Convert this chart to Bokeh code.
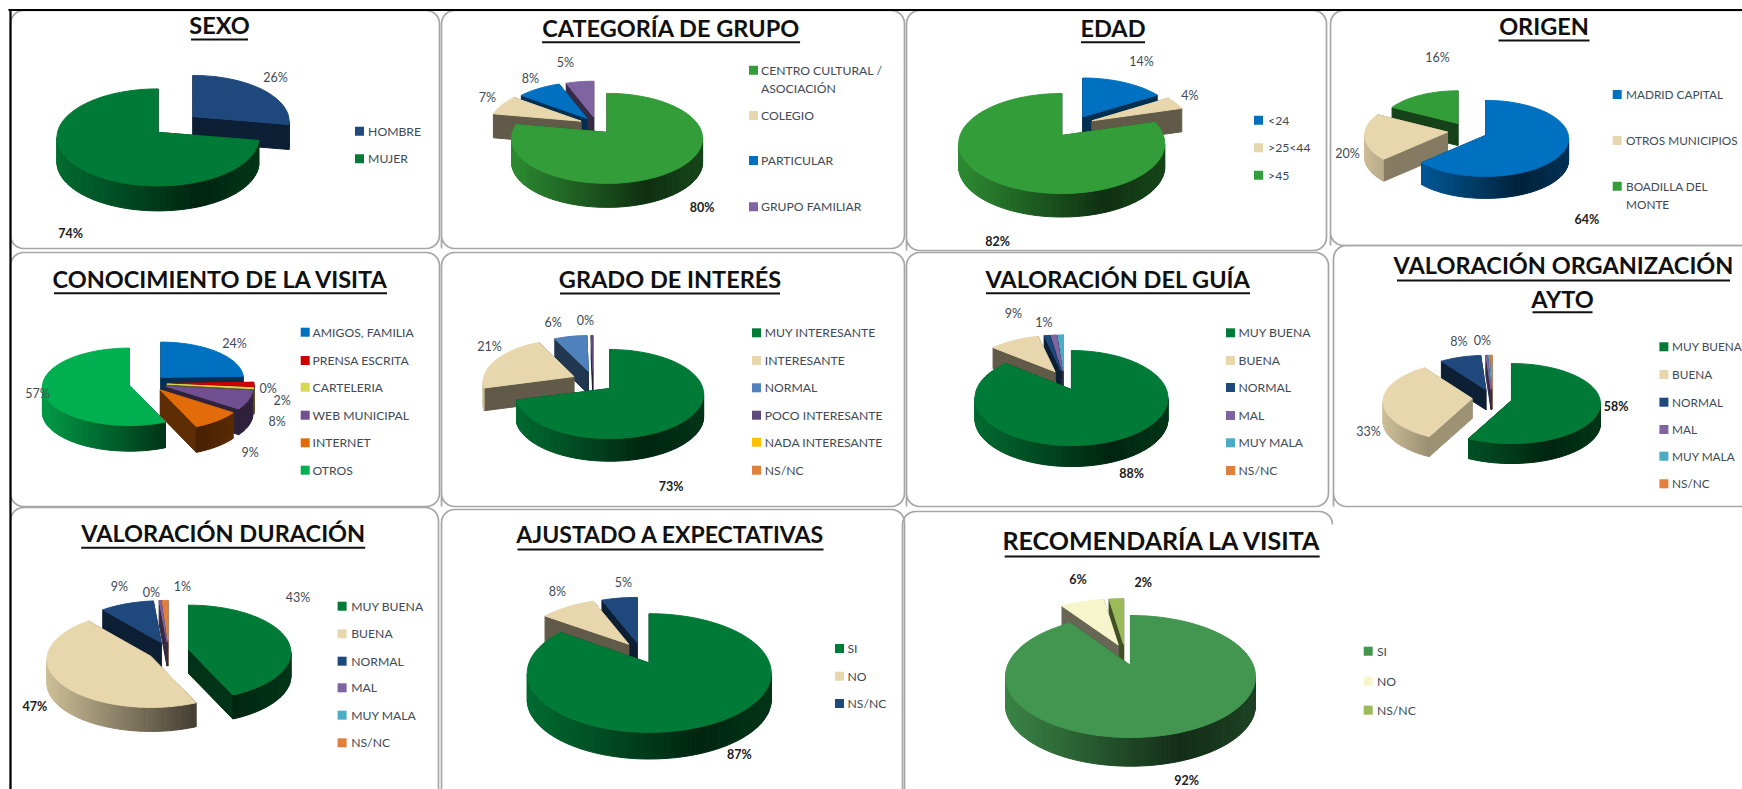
import math
from bokeh.plotting import figure
from bokeh.models import Range1d
from bokeh.core.properties import value
from bokeh.embed import file_html
from bokeh.resources import INLINE

# ---------- data ----------
SEXO_CATS = ["HOMBRE", "MUJER"]
SEXO_VALS = [26, 74]
GRUPO_CATS = ["CENTRO CULTURAL /\nASOCIACIÓN", "COLEGIO", "PARTICULAR", "GRUPO FAMILIAR"]
GRUPO_VALS = [80, 7, 8, 5]
EDAD_CATS = ["<24", ">25<44", ">45"]
EDAD_VALS = [14, 4, 82]
ORIGEN_CATS = ["MADRID CAPITAL", "OTROS MUNICIPIOS", "BOADILLA DEL\nMONTE"]
ORIGEN_VALS = [64, 20, 16]
CONOC_CATS = ["AMIGOS, FAMILIA", "PRENSA ESCRITA", "CARTELERIA", "WEB MUNICIPAL", "INTERNET", "OTROS"]
CONOC_VALS = [24, 2, 0.4, 8, 9, 57]
INTERES_CATS = ["MUY INTERESANTE", "INTERESANTE", "NORMAL", "POCO INTERESANTE", "NADA INTERESANTE", "NS/NC"]
INTERES_VALS = [73, 21, 6, 0.3, 0, 0]
VALORA_CATS = ["MUY BUENA", "BUENA", "NORMAL", "MAL", "MUY MALA", "NS/NC"]
GUIA_VALS = [88, 9, 1, 1, 1, 0]
ORGAN_VALS = [58, 33, 8, 0.3, 0.3, 0.4]
DURAC_VALS = [43, 47, 9, 0.3, 0, 1]
AJUST_CATS = ["SI", "NO", "NS/NC"]
AJUST_VALS = [87, 8, 5]
RECOM_CATS = ["SI", "NO", "NS/NC"]
RECOM_VALS = [92, 6, 2]

# ---------- colours ----------
DG, NAVY, TAN, BLUE, G2, PUR = "#007A37", "#1F497D", "#E8D7AC", "#0070C0", "#339E39", "#8064A2"
ORG = "#E0803C"
TEAL = "#4BACC6"
SEXO_COL = [NAVY, DG]
GRUPO_COL = [G2, TAN, BLUE, PUR]
EDAD_COL = [BLUE, TAN, G2]
ORIGEN_COL = [BLUE, TAN, G2]
CONOC_COL = [BLUE, "#CC0000", "#D8D850", "#705090", "#E36C0A", "#00B050"]
INTERES_COL = [DG, TAN, "#4F81BD", "#604A7B", "#FFC000", ORG]
VALORA_COL = [DG, TAN, NAVY, PUR, TEAL, ORG]
RECOM_COL = ["#42964F", "#F7F5CB", "#9BBB59"]

# ---------- layout (pixel frame of the picture) ----------
# pie: cx, cy, rx, ry, depth, explosion, apex lift
CHARTS = [
    dict(cats=SEXO_CATS, vals=SEXO_VALS, cols=SEXO_COL, pie=(175, 129, 101, 48.5, 25, 24, 5),
         titles=[("SEXO", 219, 24.7, 39, 57)], sw=359, tx=367.6, ly=[131.7, 159.3],
         labels={0: (275, 77), 1: (70, 232.7)}, bold=[1]),
    dict(cats=GRUPO_CATS, vals=GRUPO_VALS, cols=GRUPO_COL, pie=(596, 131, 95.5, 45, 24, 18, 6),
         titles=[("CATEGORÍA DE GRUPO", 670.6, 27.3, 41.7, 258)], sw=753, tx=760.5, ly=[70.7, 116, 161, 207.3],
         labels={0: (701.5, 206.7), 1: (487, 96.7), 2: (530, 78), 3: (565, 62)}, bold=[0]),
    dict(cats=EDAD_CATS, vals=EDAD_VALS, cols=EDAD_COL, pie=(1073, 134, 103, 50, 23.5, 22, 8),
         titles=[("EDAD", 1112.5, 27, 41.7, 64)], sw=1258, tx=1267.6, ly=[120.7, 148.3, 175.7],
         labels={0: (1141, 60.7), 1: (1189.5, 95), 2: (997, 240.7)}, bold=[2]),
    dict(cats=ORIGEN_CATS, vals=ORIGEN_VALS, cols=ORIGEN_COL, pie=(1467, 134, 83, 38, 22, 20, 3),
         titles=[("ORIGEN", 1543.5, 25, 40, 91)], sw=1616.7, tx=1625.5, ly=[95, 141, 186.7],
         labels={0: (1586.4, 219.3), 1: (1347, 153), 2: (1437, 57.3)}, bold=[0], tan_cut=0.57, lsize="11.8px"),
    dict(cats=CONOC_CATS, vals=CONOC_VALS, cols=CONOC_COL, pie=(147.5, 384.5, 87, 38.7, 25.7, 19, 1.5),
         titles=[("CONOCIMIENTO DE LA VISITA", 220, 278, 292.7, 333)], sw=304.7, tx=312,
         ly=[332.7, 361, 387.7, 415.7, 443.3, 470.7],
         labels={0: (234, 343), 1: (281.7, 400), 2: (267.7, 387.7), 3: (276.7, 420.7), 4: (249.7, 452.3), 5: (37, 393.3)},
         bold=[]),
    dict(cats=INTERES_CATS, vals=INTERES_VALS, cols=INTERES_COL, pie=(592.5, 386.7, 94, 44.5, 22.7, 22, 5.5),
         titles=[("GRADO DE INTERÉS", 669.5, 278, 293, 220)], sw=756, tx=764.3,
         ly=[333.3, 361, 388.3, 415.7, 442.7, 470.7],
         labels={0: (670.6, 485.7), 1: (489, 346), 2: (552.7, 321.7), 3: (585, 320)}, bold=[0]),
    dict(cats=VALORA_CATS, vals=GUIA_VALS, cols=VALORA_COL, pie=(1063.6, 388.4, 96.5, 47.5, 21, 20, 8.5),
         titles=[("VALORACIÓN DEL GUÍA", 1117.5, 278.7, 292.7, 264)], sw=1230, tx=1238,
         ly=[333.3, 361, 388, 416, 443.3, 471],
         labels={0: (1131, 472.7), 1: (1013, 313.3), 2: (1043.3, 321.7)}, bold=[0]),
    dict(cats=VALORA_CATS, vals=ORGAN_VALS, cols=VALORA_COL, pie=(1491.6, 400.8, 89, 40, 20, 20, 3),
         titles=[("VALORACIÓN ORGANIZACIÓN", 1563, 264.7, 280, 333), ("AYTO", 1562, 298, 311.7, 60)],
         sw=1663.4, tx=1671.6, ly=[347.3, 375, 402.7, 430, 456.7, 484.3],
         labels={0: (1615.6, 406), 1: (1368, 430.7), 2: (1458.3, 340.7), 3: (1482, 340)}, bold=[0],
         tan_cut=0.68, lsize="11.8px"),
    dict(cats=VALORA_CATS, vals=DURAC_VALS, cols=VALORA_COL, pie=(168, 654, 104, 48, 24, 20.5, 3),
         titles=[("VALORACIÓN DURACIÓN", 222.7, 532, 547.3, 284)], sw=341.6, tx=350.7,
         ly=[606.7, 634.3, 661.7, 688.3, 715.7, 743.3],
         labels={0: (297.4, 596.7), 1: (34.4, 705.7), 2: (118.8, 586), 3: (151, 592.3), 5: (182, 586)}, bold=[1]),
    dict(cats=AJUST_CATS, vals=AJUST_VALS, cols=[DG, TAN, NAVY], pie=(640, 662.7, 122, 59.3, 26.7, 22, 10),
         titles=[("AJUSTADO A EXPECTATIVAS", 670, 533.7, 549, 306)], sw=839, tx=847, ly=[649, 676.7, 704],
         labels={0: (738.8, 754.3), 1: (556.8, 590.7), 2: (622.8, 582.3)}, bold=[0], tsize="23px"),
    dict(cats=RECOM_CATS, vals=RECOM_VALS, cols=RECOM_COL, pie=(1124.5, 665.6, 125, 61, 28.7, 22, 11),
         titles=[("RECOMENDARÍA LA VISITA", 1161.7, 539.3, 556, 315)], sw=1367.7, tx=1376.4, ly=[651.7, 681.7, 710.7],
         labels={0: (1186, 780), 1: (1077.5, 579), 2: (1142.7, 582.3)}, bold=[0, 1, 2], tsize="25px"),
]
# x0, y0, x1, y1, open (only left + top + first corner)
PANELS = [
    (10, 10, 439, 248, False), (441, 10, 904, 248, False), (906, 10, 1326, 250, False), (1330, 10, 1770, 245, False),
    (10, 252, 439, 506, False), (441, 252, 904, 506, False), (906, 252, 1328, 506, False), (1333, 245, 1770, 506, False),
    (10, 507, 438, 810, False), (441, 509, 904, 810, False), (902, 511, 1332, 810, True),
]
FONT = "Lato"
BACK_SHRINK = 0.07  # slices lying towards the back look smaller in the 3-D view

p = figure(width=1742, height=789, x_range=Range1d(0, 1742), y_range=Range1d(789, 0),
           output_backend="svg", toolbar_location=None, min_border=0,
           background_fill_color="white", border_fill_color="white", outline_line_color=None)
p.axis.visible = False
p.grid.visible = False


def rgb(c):
    return tuple(int(c[i:i + 2], 16) for i in (1, 3, 5))


def shade(c, f):
    return "#%02x%02x%02x" % tuple(max(0, min(255, int(round(v * f)))) for v in rgb(c))


def wall_factor(u):
    # horizontal sheen of an Excel 3-D pie wall: light left, darkest at 70 %, a little lighter right
    if u < 0.7:
        return 0.88 - (0.88 - 0.30) * u / 0.7
    return 0.30 + (0.44 - 0.30) * (u - 0.7) / 0.3


px, py, pc = [], [], []


def add(xs, ys, c):
    px.append(xs)
    py.append(ys)
    pc.append(c)


def draw_pie(vals, cols, pie, tan_cut):
    cx, cy, rx0, ry0, d, e, ay = pie
    total = float(sum(vals))
    k = ry0 / rx0
    slices = []
    acc = 0.0
    for v, c in zip(vals, cols):
        t0 = acc / total * 2 * math.pi
        acc += v
        t1 = acc / total * 2 * math.pi
        if v <= 0:
            continue
        m = (t0 + t1) / 2
        ox, oy = cx + e * math.sin(m), cy - e * k * math.cos(m)
        s = 1 - BACK_SHRINK * max(0.0, math.cos(m))
        slices.append((oy - 0.5 * ry0 * math.cos(m), t0, t1, ox, oy, c, s))
    slices.sort(key=lambda q: q[0])
    for _, t0, t1, ox, oy, c, s in slices:
        rx, ry = rx0 * s, ry0 * s
        n = max(2, int((t1 - t0) / math.radians(2)) + 1)
        th = [t0 + (t1 - t0) * i / n for i in range(n + 1)]
        ax_, ay_ = ox, oy - ay
        ptx = [ox + rx * math.sin(t) for t in th]
        pty = [oy - ry * math.cos(t) for t in th]
        dark = shade(c, tan_cut if c == TAN else 0.42)
        for i in (0, n):
            add([ax_, ptx[i], ptx[i], ax_], [ay_, pty[i], pty[i] + d, ay_ + d], dark)
        for i in range(n):
            mid = (th[i] + th[i + 1]) / 2
            if math.cos(mid) < 0:
                u = (math.sin(mid) + 1) / 2
                add([ptx[i], ptx[i + 1], ptx[i + 1], ptx[i]],
                    [pty[i], pty[i + 1], pty[i + 1] + d, pty[i] + d], shade(c, wall_factor(u)))
        add([ax_] + ptx, [ay_] + pty, c)


def rounded(x0, y0, x1, y1, r, is_open):
    pts = []

    def arc(cx_, cy_, a0, a1):
        for i in range(7):
            a = math.radians(a0 + (a1 - a0) * i / 6)
            pts.append((cx_ + r * math.cos(a), cy_ + r * math.sin(a)))

    pts.append((x0, y1))
    arc(x0 + r, y0 + r, 180, 270)
    arc(x1 - r, y0 + r, 270, 360)
    if not is_open:
        arc(x1 - r, y1 - r, 0, 90)
        arc(x0 + r, y1 - r, 90, 180)
        pts.append(pts[0])
    return [q[0] for q in pts], [q[1] for q in pts]


# panels
bx, by = [], []
for x0, y0, x1, y1, op in PANELS:
    a, b = rounded(x0, y0, x1, y1, 13, op)
    bx.append(a)
    by.append(b)
p.multi_line(bx, by, line_color="#a6a6a6", line_width=1.7)
# black frame
p.multi_line([[8, 1742], [10, 10]], [[9.5, 9.5], [9, 789]], line_color="black", line_width=2.2)

for ch in CHARTS:
    draw_pie(ch["vals"], ch["cols"], ch["pie"], ch.get("tan_cut", 0.42))
p.patches(px, py, fill_color=pc, line_color=pc, line_width=1)

for ch in CHARTS:
    # titles
    for t, x, y, uy, w in ch["titles"]:
        p.text([x], [y], text=[t], text_font=value(FONT), text_font_style="bold",
               text_font_size=ch.get("tsize", "23.5px"),
               text_align="center", text_baseline="middle", text_color="#101010")
        p.segment([x - w / 2], [uy], [x + w / 2], [uy], line_color="#101010", line_width=2)
    # legend
    for cat, col, y in zip(ch["cats"], ch["cols"], ch["ly"]):
        p.rect([ch["sw"]], [y - 1], width=9, height=9, fill_color=col, line_color=None)
        for j, line in enumerate(cat.split("\n")):
            p.text([ch["tx"]], [y - 1 + j * 18], text=[line], text_font=value(FONT),
                   text_font_size=ch.get("lsize", "12.2px"), text_align="left",
                   text_baseline="middle", text_color="#404a55")
    # labels
    total = float(sum(ch["vals"]))
    for idx, (x, y) in ch["labels"].items():
        txt = f"{round(ch['vals'][idx] / total * 100)}%"
        bold = idx in ch["bold"]
        p.text([x], [y], text=[txt], text_font=value(FONT), text_font_size="12.5px",
               text_font_style="bold" if bold else "normal", text_align="center", text_baseline="middle",
               text_color="#202020" if bold else "#404a55")

open("out.html", "w").write(file_html(p, INLINE))
